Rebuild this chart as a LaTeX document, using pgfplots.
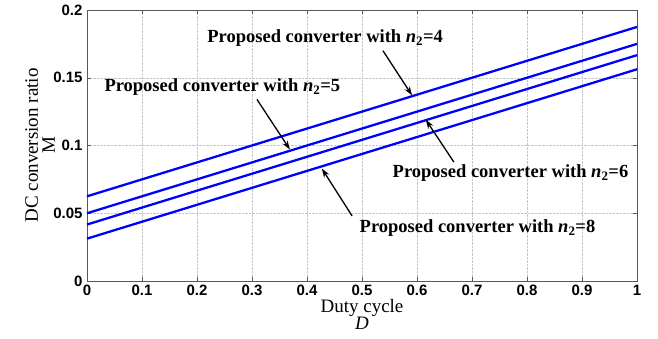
\documentclass[border=0pt]{standalone}
\usepackage{pgfplots}
\pgfplotsset{compat=1.18}
\usepackage{fontspec}
\setmainfont{Liberation Serif}
\setsansfont{Liberation Sans}
\usetikzlibrary{arrows.meta}
\begin{document}
\begin{tikzpicture}
\useasboundingbox (0,0) rectangle (658bp,339bp);
\begin{axis}[
  at={(87bp,58bp)}, anchor=south west,
  scale only axis, width=550bp, height=271bp,
  xmin=0, xmax=1, ymin=0, ymax=0.2,
  xtick={0,0.1,...,1}, ytick={0,0.05,0.1,0.15,0.2},
  xticklabels={0,0.1,0.2,0.3,0.4,0.5,0.6,0.7,0.8,0.9,1},
  yticklabels={0,0.05,0.1,0.15,0.2},
  tick align=inside,
  major tick length=4bp,
  grid=major,
  grid style={densely dotted, gray!45},
  axis line style={gray!70!black, line width=0.8pt},
  tick style={gray!70!black},
  ticklabel style={font=\fontsize{15bp}{16bp}\sffamily\bfseries},
  xticklabel style={yshift=-1bp},
  yticklabel style={xshift=-1bp},
  xlabel={Duty cycle\\[-3.5bp]\textit{D}},
  xlabel style={at={(axis description cs:0.5,-0.068)}, anchor=north, align=center, inner sep=0pt, font=\fontsize{19bp}{20bp}\selectfont},
  ylabel={DC conversion ratio\\[-3bp]M},
  ylabel style={at={(axis description cs:-0.058,0.5)}, anchor=south, align=center, inner sep=0pt, font=\fontsize{19bp}{20bp}\selectfont},
  clip=false,
]
\addplot[blue, line width=2.3pt] coordinates {(0,0.0625) (0.5,0.125) (1,0.1875)};
\addplot[blue, line width=2.3pt] coordinates {(0,0.05) (0.5,0.1125) (1,0.175)};
\addplot[blue, line width=2.3pt] coordinates {(0,0.04167) (0.5,0.10417) (1,0.16667)};
\addplot[blue, line width=2.3pt] coordinates {(0,0.03125) (0.5,0.09375) (1,0.15625)};

\tikzset{lbl/.style={font=\fontsize{18.5bp}{20bp}\selectfont\bfseries, inner sep=0pt}, arr/.style={-{Stealth[length=9bp,width=6bp]}, line width=1.3pt, black}}
\node[lbl] at (axis cs:0.433,0.179) {Proposed converter with \textit{n}\textsubscript{2}=4};
\draw[arr] (axis cs:0.538,0.170) -- (axis cs:0.591,0.137);
\node[lbl] at (axis cs:0.246,0.143) {Proposed converter with \textit{n}\textsubscript{2}=5};
\draw[arr] (axis cs:0.309,0.134) -- (axis cs:0.369,0.097);
\node[lbl] at (axis cs:0.77,0.0797) {Proposed converter with \textit{n}\textsubscript{2}=6};
\draw[arr] (axis cs:0.667,0.0878) -- (axis cs:0.616,0.119);
\node[lbl] at (axis cs:0.71,0.039) {Proposed converter with \textit{n}\textsubscript{2}=8};
\draw[arr] (axis cs:0.482,0.048) -- (axis cs:0.427,0.083);
\end{axis}
\end{tikzpicture}
\end{document}
